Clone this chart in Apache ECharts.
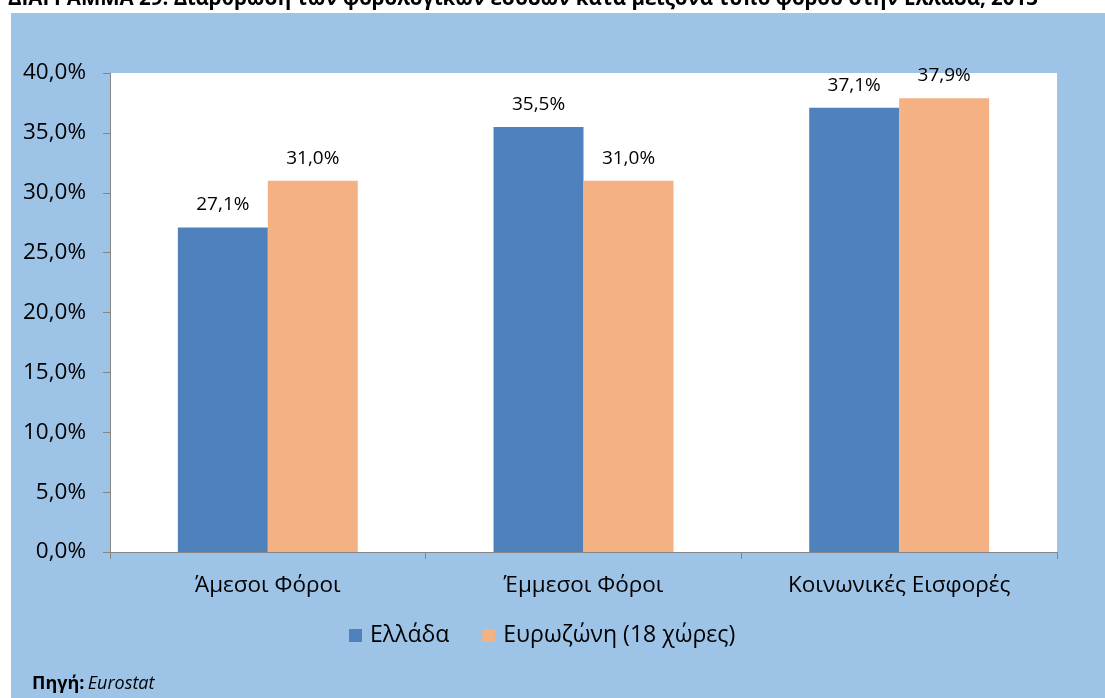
<!DOCTYPE html>
<html><head><meta charset="utf-8">
<script src="https://cdn.jsdelivr.net/npm/echarts@6/dist/echarts.min.js"></script>
<style>html,body{margin:0;padding:0;background:#fff}#c{width:1105px;height:698px}</style>
</head><body><div id="c"></div>
<script>
const categories = ['Άμεσοι Φόροι', 'Έμμεσοι Φόροι', 'Κοινωνικές Εισφορές'];
const greece = [27.1, 35.5, 37.1];
const eurozone = [31.0, 31.0, 37.9];
const seriesNames = ['Ελλάδα', 'Ευρωζώνη (18 χώρες)'];
const titleText = 'ΔΙΑΓΡΑΜΜΑ 29: Διάρθρωση των φορολογικών εσόδων κατά μείζονα τύπο φόρου στην Ελλάδα, 2013';
const fmt = v => v.toFixed(1).replace('.', ',') + '%';
const font = 'Open Sans';
const chart = echarts.init(document.getElementById('c'));
const lbl = {show: true, position: 'top', distance: 13, color: '#000', fontSize: 19, fontFamily: font, formatter: p => fmt(p.value)};
chart.setOption({
  backgroundColor: '#fff',
  animation: false,
  graphic: [
    {type: 'rect', z: -10, shape: {x: 11, y: 13, width: 1094, height: 685}, style: {fill: '#9DC3E6'}},
    {type: 'text', left: 32, top: 675, style: {rich: {b: {fontWeight: 'bold', fontSize: 18, fontFamily: font, fill: '#000'}, i: {fontStyle: 'italic', fontSize: 18, fontFamily: font, fill: '#000'}}, text: '{b|Πηγή:} {i|Eurostat}'}}
  ],
  title: {text: titleText, left: 3, top: -16, textStyle: {fontSize: 20.5, fontWeight: 'bold', fontFamily: font, color: '#000'}},
  legend: {top: 619, left: 344, itemWidth: 13, itemHeight: 13, itemGap: 33, icon: 'rect',
    textStyle: {fontSize: 23, fontFamily: font, color: '#000', padding: [0, 0, 0, 3]}, data: seriesNames},
  grid: {left: 110, top: 73, width: 947, height: 479, show: true, backgroundColor: '#fff', borderWidth: 0},
  xAxis: {type: 'category', data: categories,
    axisLine: {lineStyle: {color: '#868686'}},
    axisTick: {show: true, length: 7, lineStyle: {color: '#868686'}},
    axisLabel: {fontSize: 22.5, fontFamily: font, color: '#000', margin: 22}},
  yAxis: {type: 'value', min: 0, max: 40, interval: 5,
    axisLine: {show: true, lineStyle: {color: '#868686'}},
    axisTick: {show: true, length: 7, lineStyle: {color: '#868686'}},
    splitLine: {show: false},
    axisLabel: {fontSize: 22.5, fontFamily: font, color: '#000', margin: 24, formatter: v => fmt(v)}},
  series: [
    {name: seriesNames[0], type: 'bar', data: greece, barWidth: '28.5%', barGap: '0%', itemStyle: {color: '#4F81BD'}, label: lbl},
    {name: seriesNames[1], type: 'bar', data: eurozone, barWidth: '28.5%', itemStyle: {color: '#F4B183'}, label: lbl}
  ]
});
</script></body></html>
